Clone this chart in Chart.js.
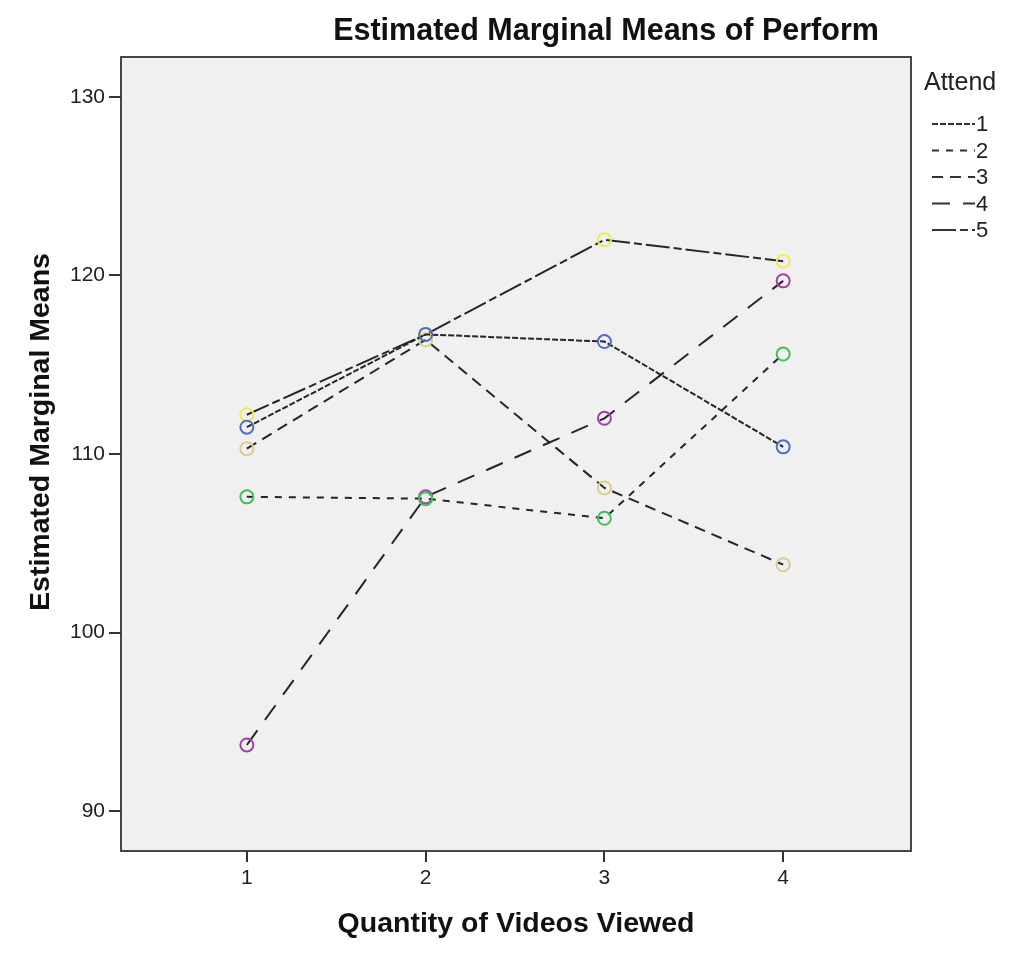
<!DOCTYPE html>
<html lang="en">
<head>
<meta charset="UTF-8">
<title>Estimated Marginal Means of Perform</title>
<script src="https://cdn.jsdelivr.net/npm/chart.js"></script>
<style>
    html, body { margin: 0; padding: 0; background: #fff; }
    #wrap { width: 1021px; height: 963px; }
</style>
</head>
<body>
<div id="wrap"><canvas id="myChart" width="1021" height="963"></canvas></div>

<script>
    // categories (Quantity of Videos Viewed)
    const videos = [1, 2, 3, 4];
    const yTicks = [90, 100, 110, 120, 130];

    // estimated marginal means per Attend level
    const attend1 = [111.5, 116.7, 116.3, 110.4];
    const attend2 = [107.6, 107.5, 106.4, 115.6];
    const attend3 = [110.3, 116.4, 108.1, 103.8];
    const attend4 = [93.7, 107.6, 112.0, 119.7];
    const attend5 = [112.2, 116.7, 122.0, 120.8];

    const attendLabels = ['1', '2', '3', '4', '5'];
    const markerColors = ['#4e6ccc', '#3ec05a', '#d8cf8c', '#a242a4', '#eeec50'];
    const dashes = [[6, 2], [7, 7], [11, 7], [18, 13], [24, 4, 8, 4]];

    const series = [attend1, attend2, attend3, attend4, attend5];
    const FONT = '"Liberation Sans", Arial, sans-serif';

    const datasets = series.map(function (vals, i) {
        return {
            label: attendLabels[i],
            data: vals.map(function (v, j) { return { x: videos[j], y: v }; }),
            borderColor: '#262626',
            borderWidth: 2,
            borderDash: dashes[i],
            pointRadius: 6.5,
            pointBorderWidth: 2,
            pointBorderColor: markerColors[i],
            pointBackgroundColor: 'rgba(0,0,0,0)',
            tension: 0
        };
    });

    // plot background + frame, title, axis titles, legend
    const decor = {
        id: 'decor',
        beforeDraw(chart) {
            const ctx = chart.ctx, a = chart.chartArea;
            ctx.save();
            ctx.fillStyle = '#fff';
            ctx.fillRect(0, 0, chart.width, chart.height);
            ctx.fillStyle = '#f0f0f0';
            ctx.fillRect(a.left, a.top, a.right - a.left, a.bottom - a.top);
            ctx.restore();
        },
        afterDraw(chart) {
            const ctx = chart.ctx, a = chart.chartArea;
            ctx.save();
            ctx.strokeStyle = '#333';
            ctx.lineWidth = 1.8;
            ctx.strokeRect(a.left, a.top, a.right - a.left, a.bottom - a.top);

            ctx.fillStyle = '#111';
            ctx.textAlign = 'center';
            ctx.textBaseline = 'middle';
            ctx.font = 'bold 30.5px ' + FONT;
            ctx.fillText('Estimated Marginal Means of Perform', 606, 32);

            ctx.font = 'bold 28.5px ' + FONT;
            ctx.fillText('Quantity of Videos Viewed', 516, 924);

            ctx.translate(41, 432);
            ctx.rotate(-Math.PI / 2);
            ctx.fillText('Estimated Marginal Means', 0, 0);
            ctx.setTransform(1, 0, 0, 1, 0, 0);

            // legend
            ctx.textAlign = 'left';
            ctx.font = '25px ' + FONT;
            ctx.fillStyle = '#222';
            ctx.fillText('Attend', 924, 83);
            ctx.font = '22px ' + FONT;
            chart.data.datasets.forEach(function (ds, i) {
                const y = 124 + i * 26.5;
                ctx.strokeStyle = '#333';
                ctx.lineWidth = 2;
                ctx.setLineDash(ds.borderDash);
                ctx.beginPath();
                ctx.moveTo(932, y);
                ctx.lineTo(975, y);
                ctx.stroke();
                ctx.setLineDash([]);
                ctx.fillText(ds.label, 976, y + 1);
            });
            ctx.restore();
        }
    };

    const config = {
        type: 'line',
        data: { datasets: datasets },
        options: {
            responsive: false,
            animation: false,
            layout: { padding: { left: 0, top: 57, right: 110, bottom: 0 } },
            plugins: {
                legend: { display: false },
                title: { display: false },
                tooltip: { enabled: false }
            },
            scales: {
                x: {
                    type: 'linear',
                    min: 0.296,
                    max: 4.715,
                    afterFit(scale) { scale.height = 112; },
                    afterBuildTicks(scale) { scale.ticks = videos.map(function (v) { return { value: v }; }); },
                    grid: { display: true, drawOnChartArea: false, drawTicks: true, tickLength: 11, color: '#333', lineWidth: 2 },
                    border: { display: false },
                    ticks: { color: '#222', font: { size: 21, family: FONT }, padding: 4, maxRotation: 0 }
                },
                y: {
                    min: 87.76,
                    max: 132.24,
                    afterFit(scale) { scale.width = 121; },
                    afterBuildTicks(scale) { scale.ticks = yTicks.map(function (v) { return { value: v }; }); },
                    grid: { display: true, drawOnChartArea: false, drawTicks: true, tickLength: 12, color: '#333', lineWidth: 2 },
                    border: { display: false },
                    ticks: { color: '#222', font: { size: 21, family: FONT }, padding: 4 }
                }
            }
        },
        plugins: [decor]
    };

    const myChart = new Chart(document.getElementById('myChart'), config);
</script>
</body>
</html>
